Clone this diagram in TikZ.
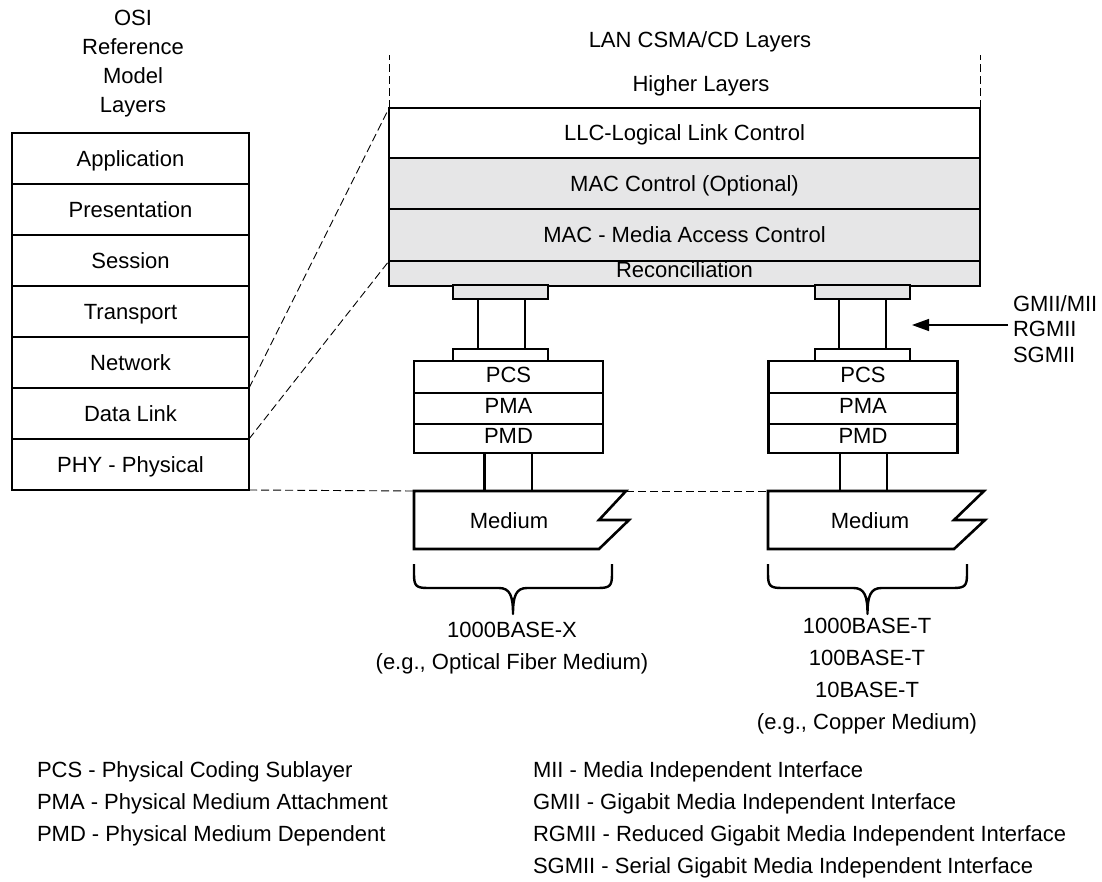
\documentclass[tikz,border=0pt]{standalone}
\usepackage{fontspec}
\setmainfont{Liberation Sans}
\usetikzlibrary{arrows.meta}
\definecolor{lgray}{RGB}{230,230,231}
\begin{document}
\begin{tikzpicture}[x=1pt,y=-1pt,
  every node/.style={font=\fontsize{22}{26}\selectfont, inner sep=0pt, outer sep=0pt},
  lay/.style={draw, line width=2.6pt, text height=16pt, text depth=0pt},
  osi/.style={lay, fill=white, minimum width=237pt, minimum height=51pt},
  big/.style={lay, minimum width=591pt},
  sub/.style={draw, fill=white, line width=2.6pt, minimum width=189pt, text height=10pt, text depth=0pt},
  plug/.style={draw, line width=2.4pt, minimum width=95pt},
  wire/.style={line width=2.4pt},
  dsh/.style={line width=0.9pt, dash pattern=on 8pt off 4pt},
  med/.style={line width=2.6pt, line join=miter},
  brc/.style={line width=2.4pt, line join=round},
  txt/.style={anchor=base},
  ltxt/.style={anchor=base west}
]
\useasboundingbox (0,0) rectangle (1102,882);

% OSI title
\node[txt] (t1) at (133,26) {OSI};
\node[txt] (t2) at (133,54.5) {Reference};
\node[txt] (t3) at (133,83.5) {Model};
\node[txt] (t4) at (133,112.5) {Layers};

% OSI stack
\node[osi] (app) at (130.5,158.5) {Application};
\node[osi] (pres) at (130.5,209.5) {Presentation};
\node[osi] (sess) at (130.5,260.5) {Session};
\node[osi] (trans) at (130.5,311.5) {Transport};
\node[osi] (net) at (130.5,362.5) {Network};
\node[osi] (dl) at (130.5,413.5) {Data Link};
\node[osi] (phy) at (130.5,464.5) {PHY - Physical};

% LAN titles
\node[txt] (lan) at (700,48) {LAN CSMA/CD Layers};
\node[txt] (hl) at (701,92) {Higher Layers};

% LAN stack
\node[big, fill=white, minimum height=50pt] (llc) at (684.5,133) {LLC-Logical Link Control};
\node[big, fill=lgray, minimum height=51pt] (macc) at (684.5,183.5) {MAC Control (Optional)};
\node[big, fill=lgray, minimum height=52pt] (mac) at (684.5,235) {MAC - Media Access Control};
\node[big, fill=lgray, minimum height=25pt, text height=8pt] (rec) at (684.5,273.5) {Reconciliation};

% dashed guides
\coordinate (vl) at (389,55);
\coordinate (vr) at (980,55);
\draw[dsh] (llc.north west) -- (vl);
\draw[dsh] (llc.north east) -- (vr);
\draw[dsh] (dl.north east) -- (llc.north west);
\draw[dsh] (dl.south east) -- (mac.south west);

% left PHY
\node[plug, fill=lgray, minimum height=14pt] (pl1) at (500.5,292) {};
\node[plug, fill=white, minimum height=12pt] (pl2) at (500.5,355) {};
\node[sub, minimum height=32pt] (pcs1) at (508.5,377) {PCS};
\node[sub, minimum height=31pt] (pma1) at (508.5,408.5) {PMA};
\node[sub, minimum height=29pt] (pmd1) at (508.5,438.5) {PMD};
\draw[wire] ([xshift=-22.5pt]pl1.south) -- ([xshift=-22.5pt]pl2.north);
\draw[wire] ([xshift=24.5pt]pl1.south) -- ([xshift=24.5pt]pl2.north);

% right PHY
\node[plug, fill=lgray, minimum height=14pt] (pr1) at (862.5,292) {};
\node[plug, fill=white, minimum height=12pt] (pr2) at (862.5,355) {};
\node[sub, minimum height=32pt] (pcs2) at (863,377) {PCS};
\node[sub, minimum height=31pt] (pma2) at (863,408.5) {PMA};
\node[sub, minimum height=29pt] (pmd2) at (863,438.5) {PMD};
\draw[wire] ([xshift=-23.5pt]pr1.south) -- ([xshift=-23.5pt]pr2.north);
\draw[wire] ([xshift=23.5pt]pr1.south) -- ([xshift=23.5pt]pr2.north);

% media
\coordinate (mL) at (414,491);
\coordinate (mLr) at (626,491);
\coordinate (mR) at (768,491);
\draw[med] (mL) -- (mLr) -- (599,520) -- (629,520) -- (599,549) -- (414,549) -- cycle;
\draw[med] (mR) -- (984,491) -- (954,520) -- (985,520) -- (954,549) -- (768,549) -- cycle;
\node[txt] (medL) at (509,528) {Medium};
\node[txt] (medR) at (870,528) {Medium};
\draw[dsh] (phy.south east) -- (mL);
\draw[dsh] (mLr) -- (mR);

% wires PMD -> medium
\coordinate (w1) at ([xshift=-24pt]pmd1.south);
\coordinate (w2) at ([xshift=23.5pt]pmd1.south);
\coordinate (w3) at ([xshift=-23pt]pmd2.south);
\coordinate (w4) at ([xshift=24pt]pmd2.south);
\draw[wire] (w1) -- (w1 |- mL);
\draw[wire] (w2) -- (w2 |- mL);
\draw[wire] (w3) -- (w3 |- mR);
\draw[wire] (w4) -- (w4 |- mR);

% braces
\draw[brc] (414,564) -- (414,574) .. controls (414,586) and (416,588) .. (428,588)
  -- (499,588) .. controls (510,588) and (513,596) .. (513,614)
  .. controls (513,596) and (516,588) .. (527,588) -- (598,588)
  .. controls (610,588) and (612,586) .. (612,574) -- (612,564);
\draw[brc] (768,564) -- (768,574) .. controls (768,586) and (770,588) .. (782,588)
  -- (853.5,588) .. controls (864.5,588) and (867.5,596) .. (867.5,614)
  .. controls (867.5,596) and (870.5,588) .. (881.5,588) -- (953,588)
  .. controls (965,588) and (967,586) .. (967,574) -- (967,564);

% medium labels
\node[txt] (x1) at (512,637) {1000BASE-X};
\node[txt] (x2) at (512,669) {(e.g., Optical Fiber Medium)};
\node[txt] (c1) at (867,633) {1000BASE-T};
\node[txt] (c2) at (867,665) {100BASE-T};
\node[txt] (c3) at (867,697) {10BASE-T};
\node[txt] (c4) at (867,729) {(e.g., Copper Medium)};

% interface labels + arrow
\node[ltxt] (gm) at (1013,312) {GMII/MII};
\node[ltxt] (rg) at (1013,337) {RGMII};
\node[ltxt] (sg) at (1013,362) {SGMII};
\coordinate (atip) at (912,325);
\coordinate (as) at ([xshift=-5pt]rg.west);
\draw[line width=1.4pt, -{Triangle[length=17pt,width=12pt]}] (as |- atip) -- (atip);

% legend
\node[ltxt] (l1) at (37,777) {PCS - Physical Coding Sublayer};
\node[ltxt] (l2) at (37,809) {PMA - Physical Medium Attachment};
\node[ltxt] (l3) at (37,841) {PMD - Physical Medium Dependent};
\node[ltxt] (r1) at (533,777) {MII - Media Independent Interface};
\node[ltxt] (r2) at (533,809) {GMII - Gigabit Media Independent Interface};
\node[ltxt] (r3) at (533,841) {RGMII - Reduced Gigabit Media Independent Interface};
\node[ltxt] (r4) at (533,873) {SGMII - Serial Gigabit Media Independent Interface};
\end{tikzpicture}
\end{document}
